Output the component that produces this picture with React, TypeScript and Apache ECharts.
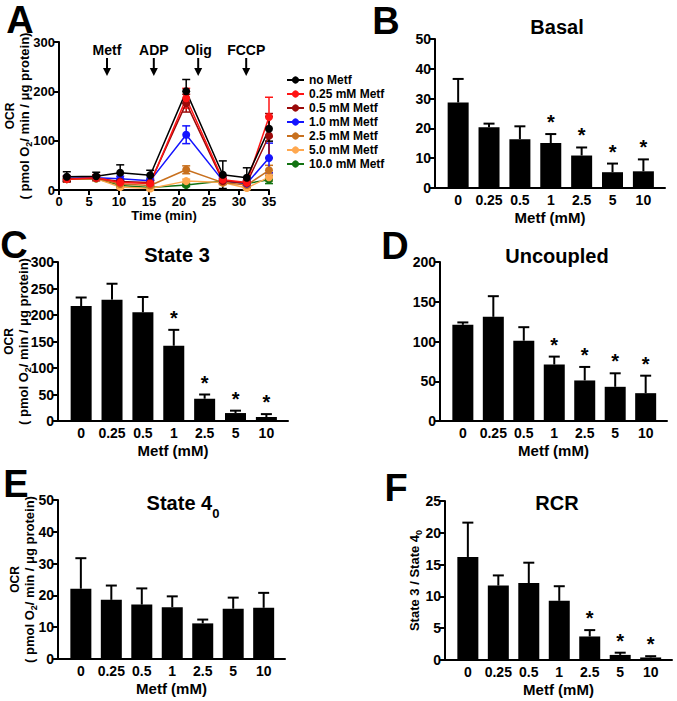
import React, { useEffect, useRef } from 'react';
import * as echarts from 'echarts';

const FONT = '"Liberation Sans", Arial, Helvetica, sans-serif';

// ---------- Panel A: OCR time course ----------
const timeMin = [1.3, 6.2, 10.2, 15.2, 21.2, 27.3, 31.3, 35];
const concNames = ['no Metf', '0.25 mM Metf', '0.5 mM Metf', '1.0 mM Metf', '2.5 mM Metf', '5.0 mM Metf', '10.0 mM Metf'];
const concColors = ['#000000', '#ff1414', '#9a0a0a', '#1414ff', '#c8701e', '#ffa84f', '#137313'];
const ocrNoMetf = [27, 28, 35, 30, 200, 31, 25, 124];
const ocrMetf025 = [22, 25, 15, 13, 186, 21, 15, 148];
const ocrMetf05 = [23, 24, 17, 15, 176, 18, 14, 110];
const ocrMetf1 = [24, 25, 23, 19, 112, 19, 13, 65];
const ocrMetf25 = [22, 24, 12, 9, 41, 15, 10, 40];
const ocrMetf5 = [22, 23, 6, 3, 18, 15, 4, 26];
const ocrMetf10 = [22, 23, 9, 5, 10, 18, 13, 21];
const errNoMetf = [10, 8, 16, 10, 24, 28, 20, 25];
const errMetf025 = [6, 6, 5, 5, 20, 6, 5, 40];
const errMetf05 = [5, 5, 5, 5, 18, 5, 5, 45];
const errMetf1 = [5, 5, 5, 5, 18, 5, 5, 30];
const errMetf25 = [4, 4, 4, 4, 8, 4, 4, 10];
const errMetf5 = [3, 3, 3, 3, 4, 3, 3, 8];
const errMetf10 = [3, 3, 3, 3, 3, 3, 3, 8];
const injections = ['Metf', 'ADP', 'Olig', 'FCCP'];
const injectionTimes = [8, 15.8, 23.2, 31.2];

// ---------- Bar panels ----------
const metfDoses = ['0', '0.25', '0.5', '1', '2.5', '5', '10'];
const basalMean = [28.7, 20.4, 16.4, 15.1, 10.9, 5.3, 5.6];
const basalSem = [7.9, 1.2, 4.3, 3.0, 2.7, 2.9, 4.0];
const basalSig = [0, 0, 0, 1, 1, 1, 1];
const state3Mean = [217, 229, 205, 142, 42, 15, 7.5];
const state3Sem = [16, 30, 29, 30, 8, 4.5, 5.5];
const state3Sig = [0, 0, 0, 1, 1, 1, 1];
const uncoupledMean = [121, 131, 101, 71, 51, 43, 35];
const uncoupledSem = [3, 26, 17, 10, 17, 17, 22];
const uncoupledSig = [0, 0, 0, 1, 1, 1, 1];
const state4Mean = [22.1, 18.6, 17.1, 16.3, 11.2, 15.8, 16.1];
const state4Sem = [9.6, 4.5, 5.1, 3.4, 1.2, 3.5, 4.7];
const state4Sig = [0, 0, 0, 0, 0, 0, 0];
const rcrMean = [16.2, 11.7, 12.1, 9.3, 3.7, 0.8, 0.4];
const rcrSem = [5.4, 1.6, 3.2, 2.3, 1.0, 0.35, 0.2];
const rcrSig = [0, 0, 0, 0, 1, 1, 1];

const bold = (size: number) => ({ fontFamily: FONT, fontWeight: 'bold' as const, fontSize: size, color: '#000' });

const ocrName = '{o|OCR}\n{a|( pmol O}{s|2}{a|/ min / \u03bcg protein)}';
const ocrRich = {
  o: { fontFamily: FONT, fontWeight: 'bold', fontSize: 12, lineHeight: 15, color: '#000' },
  a: { fontFamily: FONT, fontWeight: 'bold', fontSize: 13, lineHeight: 15, color: '#000' },
  s: { fontFamily: FONT, fontWeight: 'bold', fontSize: 9, lineHeight: 9, padding: [8, 0, 0, 0], color: '#000' },
};

function buildOption() {
  const grids: any[] = [
    { left: 59, top: 42, width: 210, height: 148 }, // A
    { left: 435, top: 39, width: 230, height: 149 }, // B
    { left: 58, top: 262, width: 230, height: 159 }, // C
    { left: 440, top: 262, width: 227, height: 159 }, // D
    { left: 58, top: 500, width: 227, height: 159 }, // E
    { left: 445, top: 501, width: 227, height: 159 }, // F
  ];

  const axisLine = { show: true, onZero: false, lineStyle: { color: '#000', width: 2 } };
  const yTick = { show: true, length: 5, lineStyle: { color: '#000', width: 2 } };

  const xAxes: any[] = [
    {
      gridIndex: 0, type: 'value', min: 0, max: 35, interval: 5,
      axisLine, axisTick: { show: true, length: 5, lineStyle: { color: '#000', width: 2 } },
      axisLabel: { ...bold(13), margin: 5 }, splitLine: { show: false },
      name: 'Time (min)', nameLocation: 'middle', nameGap: 19, nameMoveOverlap: false, nameTextStyle: bold(13),
    },
  ];
  const yAxes: any[] = [
    {
      gridIndex: 0, type: 'value', min: 0, max: 300, interval: 100,
      axisLine, axisTick: yTick, axisLabel: { ...bold(13), margin: 4 }, splitLine: { show: false },
      name: ocrName, nameLocation: 'middle', nameGap: 27, nameMoveOverlap: false,
      nameTextStyle: { fontFamily: FONT, fontWeight: 'bold', fontSize: 13, color: '#000', align: 'center', rich: ocrRich },
    },
  ];

  const barPanels = [
    { mean: basalMean, sem: basalSem, sig: basalSig, max: 50, interval: 10 },
    { mean: state3Mean, sem: state3Sem, sig: state3Sig, max: 300, interval: 50 },
    { mean: uncoupledMean, sem: uncoupledSem, sig: uncoupledSig, max: 200, interval: 50 },
    { mean: state4Mean, sem: state4Sem, sig: state4Sig, max: 50, interval: 10 },
    { mean: rcrMean, sem: rcrSem, sig: rcrSig, max: 25, interval: 5 },
  ];
  const yNames: any[] = [
    null,
    { name: ocrName, gap: 27, rich: ocrRich },
    null,
    { name: ocrName, gap: 21, rich: ocrRich },
    {
      name: '{a|State 3 / State 4}{s|0}', gap: 23,
      rich: {
        a: { fontFamily: FONT, fontWeight: 'bold', fontSize: 13, lineHeight: 15, color: '#000' },
        s: { fontFamily: FONT, fontWeight: 'bold', fontSize: 9, lineHeight: 9, padding: [8, 0, 0, 0], color: '#000' },
      },
    },
  ];

  const series: any[] = [];

  barPanels.forEach((p, k) => {
    const g = k + 1;
    xAxes.push({
      gridIndex: g, type: 'value', min: -0.75, max: 6.7, splitNumber: 7,
      axisLine, axisTick: { show: false }, splitLine: { show: false },
      axisLabel: {
        ...bold(14), margin: 5,
        formatter: (v: number) => {
          const i = Math.round(v);
          return Math.abs(v - i) < 1e-6 && i >= 0 && i < metfDoses.length ? metfDoses[i] : '';
        },
      },
      name: 'Metf (mM)', nameLocation: 'middle', nameGap: 22, nameMoveOverlap: false, nameTextStyle: bold(15),
    });
    const yn = yNames[k];
    yAxes.push({
      gridIndex: g, type: 'value', min: 0, max: p.max, interval: p.interval,
      axisLine, axisTick: yTick, axisLabel: { ...bold(14), margin: 4 }, splitLine: { show: false },
      ...(yn ? {
        name: yn.name, nameLocation: 'middle', nameGap: yn.gap, nameMoveOverlap: false,
        nameTextStyle: { fontFamily: FONT, fontWeight: 'bold', fontSize: 13, color: '#000', align: 'center', rich: yn.rich },
      } : {}),
    });
    series.push({
      type: 'bar', xAxisIndex: g, yAxisIndex: g, barWidth: 21, silent: true,
      itemStyle: { color: '#000' },
      data: p.mean.map((v, i) => [i, v]),
    });
    series.push({
      type: 'custom', xAxisIndex: g, yAxisIndex: g, silent: true,
      encode: { x: 0, y: [1, 2] },
      data: p.mean.map((v, i) => [i, v, v + p.sem[i], p.sig[i]]),
      renderItem: (params: any, api: any) => {
        const i = api.value(0), m = api.value(1), top = api.value(2), sg = api.value(3);
        const b = api.coord([i, m]);
        const t = api.coord([i, top]);
        const children: any[] = [
          { type: 'line', shape: { x1: b[0], y1: b[1], x2: t[0], y2: t[1] }, style: { stroke: '#000', lineWidth: 2 } },
          { type: 'line', shape: { x1: t[0] - 5.5, y1: t[1], x2: t[0] + 5.5, y2: t[1] }, style: { stroke: '#000', lineWidth: 2 } },
        ];
        if (sg) {
          children.push({
            type: 'text', x: t[0], y: t[1] - 2,
            style: { text: '*', font: `bold 20px ${FONT}`, fill: '#000', align: 'center', verticalAlign: 'bottom' },
          });
        }
        return { type: 'group', children };
      },
    });
  });

  // Panel A series (drawn in reverse so "no Metf" is on top)
  const aValues = [ocrNoMetf, ocrMetf025, ocrMetf05, ocrMetf1, ocrMetf25, ocrMetf5, ocrMetf10];
  const aErrs = [errNoMetf, errMetf025, errMetf05, errMetf1, errMetf25, errMetf5, errMetf10];
  for (let k = aValues.length - 1; k >= 0; k--) {
    const color = concColors[k];
    series.push({
      type: 'custom', name: 'err' + k, xAxisIndex: 0, yAxisIndex: 0, silent: true,
      encode: { x: 0, y: 1 },
      data: aValues[k].map((v, i) => [timeMin[i], v, aErrs[k][i]]),
      renderItem: (params: any, api: any) => {
        const t = api.value(0), v = api.value(1), e = api.value(2);
        const lo = api.coord([t, Math.max(0, v - e)]);
        const hi = api.coord([t, v + e]);
        const st = { stroke: color, lineWidth: 1.5 };
        return {
          type: 'group', children: [
            { type: 'line', shape: { x1: lo[0], y1: lo[1], x2: hi[0], y2: hi[1] }, style: st },
            { type: 'line', shape: { x1: hi[0] - 4, y1: hi[1], x2: hi[0] + 4, y2: hi[1] }, style: st },
            { type: 'line', shape: { x1: lo[0] - 4, y1: lo[1], x2: lo[0] + 4, y2: lo[1] }, style: st },
          ],
        };
      },
    });
    series.push({
      type: 'line', name: concNames[k], xAxisIndex: 0, yAxisIndex: 0,
      symbol: 'circle', symbolSize: 8, color,
      lineStyle: { color, width: 1.5 }, itemStyle: { color },
      data: aValues[k].map((v, i) => [timeMin[i], v]),
    });
  }

  // injection arrows
  series.push({
    type: 'custom', xAxisIndex: 0, yAxisIndex: 0, silent: true,
    encode: { x: 0, y: 1 },
    data: injectionTimes.map((t) => [t, 300]),
    renderItem: (params: any, api: any) => {
      const p = api.coord([api.value(0), api.value(1)]);
      const x = p[0], y0 = p[1];
      return {
        type: 'group', children: [
          { type: 'text', x, y: y0 + 8, style: { text: injections[params.dataIndex], font: `bold 14px ${FONT}`, fill: '#000', align: 'center', verticalAlign: 'middle' } },
          { type: 'line', shape: { x1: x, y1: y0 + 16, x2: x, y2: y0 + 28 }, style: { stroke: '#000', lineWidth: 2 } },
          { type: 'polygon', shape: { points: [[x - 4, y0 + 26], [x + 4, y0 + 26], [x, y0 + 34]] }, style: { fill: '#000' } },
        ],
      };
    },
  });

  const letter = (text: string, x: number, y: number) => ({
    type: 'text', x, y,
    style: { text, font: `bold 38px ${FONT}`, fill: '#000', align: 'center', verticalAlign: 'middle' },
  });
  const title = (text: string, x: number, y: number) => ({
    type: 'text', x, y,
    style: { text, font: `bold 20px ${FONT}`, fill: '#000', align: 'center', verticalAlign: 'middle' },
  });

  const graphic: any[] = [
    letter('A', 20, 20), letter('B', 386, 21), letter('C', 14, 245),
    letter('D', 395, 246), letter('E', 16, 484), letter('F', 396, 488),
    title('Basal', 557, 27), title('State 3', 177, 255), title('Uncoupled', 557, 256), title('RCR', 557, 503),
    {
      type: 'text', x: 183, y: 503,
      style: {
        text: '{t|State 4}{s|0}', align: 'center', verticalAlign: 'middle',
        rich: {
          t: { fontFamily: FONT, fontWeight: 'bold', fontSize: 20, lineHeight: 22, fill: '#000' },
          s: { fontFamily: FONT, fontWeight: 'bold', fontSize: 13, lineHeight: 14, padding: [20, 0, 0, 0], fill: '#000' },
        },
      },
    },
  ];

  return {
    animation: false,
    backgroundColor: '#fff',
    grid: grids,
    xAxis: xAxes,
    yAxis: yAxes,
    legend: {
      data: concNames, orient: 'vertical', left: 281, top: 69,
      itemWidth: 17, itemHeight: 9, itemGap: 2,
      textStyle: { ...bold(12), lineHeight: 12 },
    },
    graphic,
    series,
  };
}

export default function App() {
  const ref = useRef<HTMLDivElement>(null);
  useEffect(() => {
    const chart = echarts.init(ref.current!, undefined, { renderer: 'svg' });
    chart.setOption(buildOption() as any);
    return () => chart.dispose();
  }, []);
  return (
    <div
      ref={ref}
      style={{ position: 'absolute', left: 0, top: 0, width: 677, height: 701, background: '#fff' }}
    />
  );
}
